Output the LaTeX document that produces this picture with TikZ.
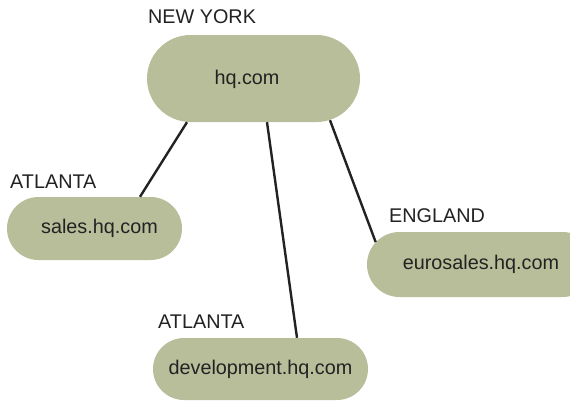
\documentclass[tikz,border=0pt]{standalone}
\usepackage{fontspec}
\setmainfont{Liberation Sans}
\usetikzlibrary{shapes.misc}
\definecolor{sage}{RGB}{184,190,154}
\definecolor{ink}{RGB}{34,34,34}

\begin{document}
\begin{tikzpicture}[x=1pt,y=-1pt, every node/.style={font=\fontsize{19.8}{23}\selectfont, text=ink},
  site/.style={rounded rectangle, fill=sage, inner sep=0pt},
  city/.style={anchor=west, inner sep=0pt},
  link/.style={draw=ink, line width=2.4pt}]
\useasboundingbox (0,0) rectangle (570,400);
\node[site, minimum width=213pt, minimum height=87pt, label={[xshift=-6.5pt,yshift=-1pt]center:hq.com}] (hq) at (253.5,78.5) {};
\node[site, minimum width=175pt, minimum height=63pt, label={[xshift=5pt]center:sales.hq.com}] (sales) at (94.5,228.5) {};
\node[site, minimum width=228pt, minimum height=65pt] (euro) at (481,264.5) {eurosales.hq.com};
\node[site, minimum width=215pt, minimum height=62pt] (dev) at (260.5,369) {development.hq.com};
\node[city] (ny) at (148,17) {NEW YORK};
\node[city] (atl) at (10,181.5) {ATLANTA};
\node[city] (eng) at (389,215.5) {ENGLAND};
\node[city] (atl2) at (158,321.5) {ATLANTA};
\draw[link] ([xshift=-66.5pt]hq.south) -- ([xshift=45.5pt]sales.north);
\draw[link] ([xshift=13.5pt]hq.south) -- ([xshift=36.5pt]dev.north);
\draw[link] ([xshift=76.5pt,yshift=2pt]hq.south) -- (euro.168);
\end{tikzpicture}
\end{document}
